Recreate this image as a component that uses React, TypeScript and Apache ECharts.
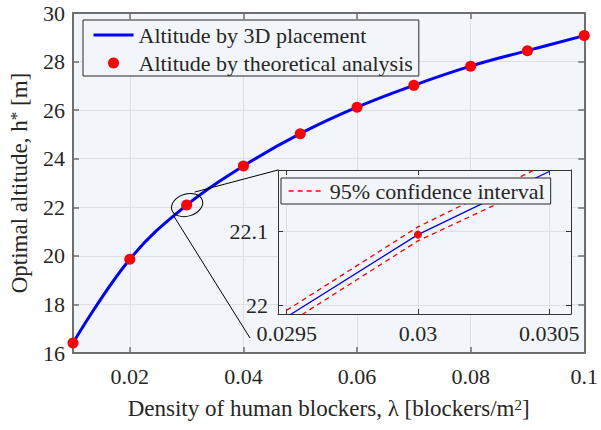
import React, { useEffect, useRef } from "react";
import * as echarts from "echarts";

// ---- data ----
const lambda = [0.01, 0.02, 0.03, 0.04, 0.05, 0.06, 0.07, 0.08, 0.09, 0.1];
const altitude3D = [16.41, 19.86, 22.09, 23.7, 25.03, 26.12, 27.02, 27.81, 28.45, 29.07];
const altitudeTheory = [16.41, 19.86, 22.09, 23.7, 25.03, 26.12, 27.02, 27.81, 28.45, 29.07];
const xTicks = [0.02, 0.04, 0.06, 0.08, 0.1];

const insetLambda = [0.0295, 0.03, 0.0305];
const insetAltitude = [21.984, 22.0955, 22.181];
const ciUpper = [21.993, 22.106, 22.193];
const ciLower = [21.974, 22.087, 22.17];
const insetXTicks = [0.0295, 0.03, 0.0305];
const insetYTicks = [22, 22.1];
const zoomPoint = [0.03, 22.09];

const FONT = "Liberation Serif";
const TXT = "#262626";
const BG = "#f2f6fa";
const GRIDC = "#dde1e6";
const AXC = "#6e6e6e";
const HIDDEN_SYMBOL = { color: "rgba(0,0,0,0)", borderColor: "rgba(0,0,0,0)", borderWidth: 0, opacity: 0 };

const pairs = (xs: number[], ys: number[]) => xs.map((x, i) => [x, ys[i]]);
const fmt = (v: number) => String(parseFloat(Number(v).toFixed(6)));

const MAIN = { left: 73, top: 13, width: 515, height: 340 };
const INSET = { left: 278, top: 170, width: 293, height: 144 };

export default function App() {
  const ref = useRef<HTMLDivElement>(null);
  useEffect(() => {
    if (!ref.current) return;
    const chart = echarts.init(ref.current, undefined, { renderer: "svg" });
    const tickLabel = { fontFamily: FONT, fontSize: 22, color: TXT };
    const mainLine = { show: true, lineStyle: { color: AXC, width: 2 } };
    const mainTick = { show: true, inside: true, length: 6, lineStyle: { color: AXC, width: 1.5 } };
    const insLine = { show: true, lineStyle: { color: "#333", width: 1 } };
    const insTick = { show: true, inside: true, length: 5, lineStyle: { color: "#333", width: 1 } };

    chart.setOption({
      animation: false,
      backgroundColor: "#fff",
      grid: [
        { ...MAIN, show: true, backgroundColor: BG, borderWidth: 0, z: 0 },
        { ...INSET, show: false },
      ],
      xAxis: [
        {
          gridIndex: 0, type: "value", min: 0.01, max: 0.1, position: "bottom", z: 1,
          axisLine: mainLine,
          axisTick: { ...mainTick, customValues: xTicks },
          axisLabel: { ...tickLabel, customValues: xTicks, margin: 12, formatter: fmt },
          splitLine: { show: true, lineStyle: { color: GRIDC, width: 1 } },
          name: "Density of human blockers, λ [blockers/m{sup|2}]",
          nameLocation: "middle", nameGap: 44,
          nameTextStyle: {
            fontFamily: FONT, fontSize: 23, color: TXT,
            rich: { sup: { fontFamily: FONT, fontSize: 15, color: TXT, verticalAlign: "top", lineHeight: 14 } },
          },
        },
        {
          gridIndex: 0, type: "value", min: 0.01, max: 0.1, position: "top", z: 1,
          axisLine: mainLine,
          axisTick: { ...mainTick, customValues: xTicks },
          axisLabel: { show: false },
          splitLine: { show: false },
        },
        {
          gridIndex: 1, type: "value", min: 0.029467, max: 0.030583, position: "bottom", z: 4,
          axisLine: insLine,
          axisTick: { ...insTick, customValues: insetXTicks },
          axisLabel: { ...tickLabel, customValues: insetXTicks, margin: 8, formatter: fmt },
          splitLine: { show: true, lineStyle: { color: GRIDC, width: 1 } },
        },
        {
          gridIndex: 1, type: "value", min: 0.029467, max: 0.030583, position: "top", z: 4,
          axisLine: insLine,
          axisTick: { ...insTick, customValues: insetXTicks },
          axisLabel: { show: false },
          splitLine: { show: false },
        },
      ],
      yAxis: [
        {
          gridIndex: 0, type: "value", min: 16, max: 30, interval: 2, position: "left", z: 1,
          axisLine: mainLine,
          axisTick: mainTick,
          axisLabel: { ...tickLabel, margin: 8 },
          splitLine: { show: true, lineStyle: { color: GRIDC, width: 1 } },
          name: "Optimal altitude, h{sup|*} [m]",
          nameLocation: "middle", nameGap: 42, nameRotate: 90,
          nameTextStyle: {
            fontFamily: FONT, fontSize: 23, color: TXT,
            rich: { sup: { fontFamily: FONT, fontSize: 17, color: TXT, verticalAlign: "top", lineHeight: 12 } },
          },
        },
        {
          gridIndex: 0, type: "value", min: 16, max: 30, interval: 2, position: "right", z: 1,
          axisLine: mainLine,
          axisTick: mainTick,
          axisLabel: { show: false },
          splitLine: { show: false },
        },
        {
          gridIndex: 1, type: "value", min: 21.988, max: 22.183, position: "left", z: 4,
          axisLine: insLine,
          axisTick: { ...insTick, customValues: insetYTicks },
          axisLabel: { ...tickLabel, customValues: insetYTicks, margin: 10, formatter: fmt },
          splitLine: { show: true, lineStyle: { color: GRIDC, width: 1 } },
        },
        {
          gridIndex: 1, type: "value", min: 21.988, max: 22.183, position: "right", z: 4,
          axisLine: insLine,
          axisTick: { ...insTick, customValues: insetYTicks },
          axisLabel: { show: false },
          splitLine: { show: false },
        },
      ],
      legend: [
        {
          data: [
            { name: "Altitude by 3D placement", itemStyle: HIDDEN_SYMBOL, lineStyle: { width: 3, color: "#0000ff" } },
            { name: "Altitude by theoretical analysis", icon: "circle" },
          ],
          orient: "vertical", left: 83, top: 20, padding: [3, 6, 1, 9],
          itemWidth: 40, itemHeight: 11, itemGap: 4,
          textStyle: { fontFamily: FONT, fontSize: 22, color: TXT, lineHeight: 24 },
          backgroundColor: BG, borderColor: "#262626", borderWidth: 1, z: 6,
          selectedMode: false,
        },
        {
          data: [{ name: "95% confidence interval", itemStyle: HIDDEN_SYMBOL, lineStyle: { width: 1.3, color: "#ff0000", type: [5, 4] } }],
          orient: "vertical", left: 281, top: 178, padding: [1, 6, 1, 7],
          itemWidth: 36, itemHeight: 11, itemGap: 4,
          textStyle: { fontFamily: FONT, fontSize: 22, color: TXT, lineHeight: 24 },
          backgroundColor: BG, borderColor: "#262626", borderWidth: 1, z: 6,
          selectedMode: false,
        },
      ],
      series: [
        {
          name: "Altitude by 3D placement", type: "line", xAxisIndex: 0, yAxisIndex: 0,
          data: pairs(lambda, altitude3D), smooth: 0.4, symbol: "none",
          lineStyle: { color: "#0000ff", width: 3 }, itemStyle: { color: "#0000ff" }, z: 2,
        },
        {
          name: "Altitude by theoretical analysis", type: "scatter", xAxisIndex: 0, yAxisIndex: 0,
          data: pairs(lambda, altitudeTheory), symbolSize: 11,
          itemStyle: { color: "#ff0000", opacity: 1 }, z: 3,
        },
        {
          name: "95% confidence interval", type: "line", xAxisIndex: 2, yAxisIndex: 2,
          data: pairs(insetLambda, ciUpper), symbol: "none",
          lineStyle: { color: "#ff0000", width: 1.3, type: [5, 4] }, itemStyle: { color: "#ff0000" }, z: 5,
        },
        {
          name: "95% confidence interval", type: "line", xAxisIndex: 2, yAxisIndex: 2,
          data: pairs(insetLambda, ciLower), symbol: "none",
          lineStyle: { color: "#ff0000", width: 1.3, type: [5, 4] }, itemStyle: { color: "#ff0000" }, z: 5,
        },
        {
          name: "inset3D", type: "line", xAxisIndex: 2, yAxisIndex: 2,
          data: pairs(insetLambda, insetAltitude), symbol: "none",
          lineStyle: { color: "#0000ff", width: 1.3 }, z: 5,
        },
        {
          name: "insetTheory", type: "scatter", xAxisIndex: 2, yAxisIndex: 2,
          data: [[insetLambda[1], insetAltitude[1]]], symbolSize: 8,
          itemStyle: { color: "#ff0000", opacity: 1 }, z: 5,
        },
      ],
    });

    const p = chart.convertToPixel({ xAxisIndex: 0, yAxisIndex: 0 }, zoomPoint) as number[];
    const cx = p[0] + 0.5, cy = p[1];
    chart.setOption({
      graphic: [
        {
          type: "rect", z: 3, silent: true,
          shape: { x: INSET.left, y: INSET.top, width: INSET.width, height: INSET.height },
          style: { fill: BG },
        },
        {
          type: "ellipse", z: 10, silent: true, x: cx, y: cy, rotation: 0.3,
          shape: { cx: 0, cy: 0, rx: 16, ry: 11 },
          style: { fill: "none", stroke: "#000", lineWidth: 1 },
        },
        {
          type: "line", z: 10, silent: true,
          shape: { x1: cx + 7.5, y1: cy - 13, x2: INSET.left, y2: INSET.top },
          style: { stroke: "#000", lineWidth: 1 },
        },
        {
          type: "line", z: 10, silent: true,
          shape: { x1: cx - 13, y1: cy + 11.5, x2: INSET.left - 28, y2: INSET.top + INSET.height + 24 },
          style: { stroke: "#000", lineWidth: 1 },
        },
      ],
    });

    return () => chart.dispose();
  }, []);
  return (
    <div
      ref={ref}
      style={{ position: "fixed", left: 0, top: 0, width: 601, height: 430, background: "#fff" }}
    />
  );
}
